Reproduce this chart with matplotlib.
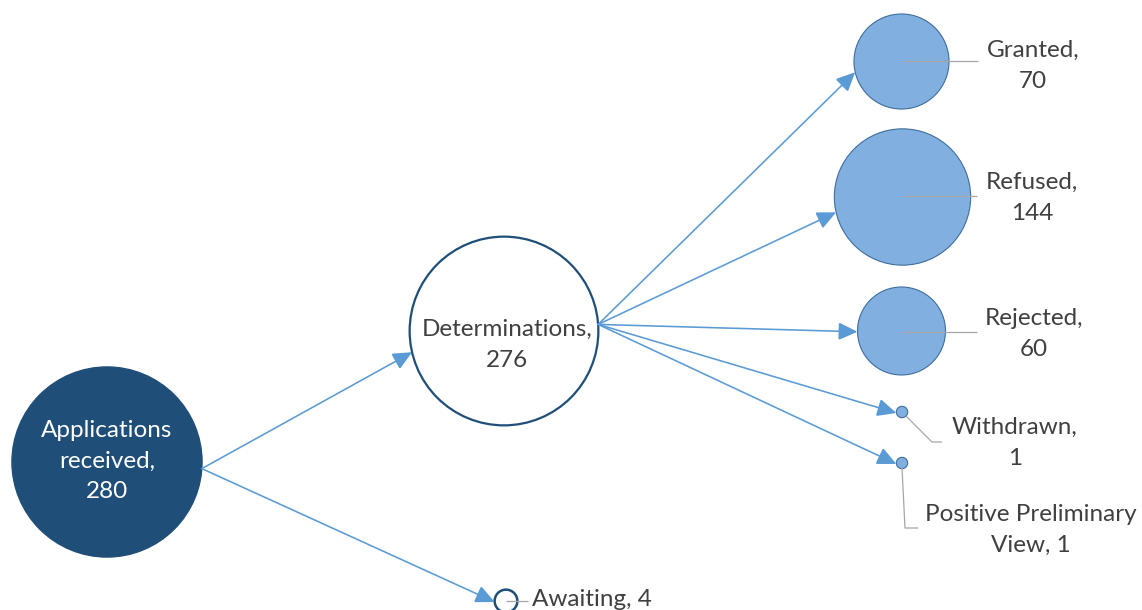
import numpy as np
import matplotlib
matplotlib.use("Agg")
import matplotlib.pyplot as plt
from matplotlib.patches import Circle, FancyArrowPatch
from matplotlib.patches import ArrowStyle

# ---- data -------------------------------------------------------------
stages = ["Applications received", "Determinations", "Awaiting",
          "Granted", "Refused", "Rejected", "Withdrawn",
          "Positive Preliminary View"]
counts = [280, 276, 4, 70, 144, 60, 1, 1]
flow_sources = ["Applications received", "Applications received",
                "Determinations", "Determinations", "Determinations",
                "Determinations", "Determinations"]
flow_targets = ["Determinations", "Awaiting",
                "Granted", "Refused", "Rejected", "Withdrawn",
                "Positive Preliminary View"]

# ---- layout (canvas pixels, y grows downward) --------------------------
W, H = 1142, 610
SCALE = 5.68          # bubble radius = SCALE * sqrt(count)

layout = {
    "Applications received": dict(xy=(107, 462), text=(107, 461),
                                  wrap="Applications\nreceived", sep="\n",
                                  kind="source", out_angle=-4, in_angle=None,
                                  leader=None),
    "Determinations": dict(xy=(504, 331), text=(507, 345),
                           wrap="Determinations", sep="\n",
                           kind="hub", out_angle=4, in_angle=193,
                           leader=None),
    "Awaiting": dict(xy=(506, 601), text=(532, 599), wrap="Awaiting",
                     sep=" ", kind="pending", in_angle=185, ha="left",
                     leader=[(506, 601), (528, 601)]),
    "Granted": dict(xy=(901.5, 61.5), text=(1033, 66), wrap="Granted",
                    sep="\n", kind="outcome", in_angle=193,
                    leader=[(901.5, 61), (978, 61)]),
    "Refused": dict(xy=(902.5, 197), text=(1032, 198), wrap="Refused",
                    sep="\n", kind="outcome", in_angle=193,
                    leader=[(902.5, 196), (977, 196)]),
    "Rejected": dict(xy=(901.5, 331), text=(1034, 334), wrap="Rejected",
                     sep="\n", kind="outcome", in_angle=181,
                     leader=[(901.5, 332), (977, 332)]),
    "Withdrawn": dict(xy=(902, 412), text=(1015, 443), wrap="Withdrawn",
                      sep="\n", kind="outcome", in_angle=190,
                      leader=[(906, 416), (932, 442), (942, 442)]),
    "Positive Preliminary View": dict(xy=(902, 463), text=(1031, 530),
                                      wrap="Positive Preliminary\nView",
                                      sep=" ", kind="outcome", in_angle=190,
                                      leader=[(902, 468), (905, 528),
                                              (918, 528)]),
}

# ---- styles ------------------------------------------------------------
DARK_BLUE = "#1F4E79"
ARROW_BLUE = "#5B9BD5"
OUTCOME_FILL = "#80AFE0"
OUTCOME_EDGE = "#3E6E9E"
TEXT_GREY = "#404040"
LEADER_GREY = "#A6A6A6"
FONT = ["Lato", "DejaVu Sans"]

node_style = {
    "source": dict(facecolor=DARK_BLUE, edgecolor=DARK_BLUE, linewidth=1.0),
    "hub": dict(facecolor="white", edgecolor=DARK_BLUE, linewidth=1.6),
    "pending": dict(facecolor="white", edgecolor=DARK_BLUE, linewidth=1.8),
    "outcome": dict(facecolor=OUTCOME_FILL, edgecolor=OUTCOME_EDGE,
                    linewidth=0.8),
}

fig = plt.figure(figsize=(W / 100, H / 100), dpi=100)
ax = fig.add_axes([0, 0, 1, 1])
ax.set_xlim(0, W)
ax.set_ylim(H, 0)
ax.axis("off")

count_of = dict(zip(stages, counts))


def radius(name):
    return SCALE * np.sqrt(count_of[name])


def rim_point(name, angle_deg):
    cx, cy = layout[name]["xy"]
    r = radius(name)
    a = np.deg2rad(angle_deg)
    return cx + r * np.cos(a), cy - r * np.sin(a)


# bubbles
for name in stages:
    spec = layout[name]
    ax.add_patch(Circle(spec["xy"], radius(name), zorder=2,
                        **node_style[spec["kind"]]))

# leader lines from bubble to its label
for name in stages:
    pts = layout[name]["leader"]
    if pts:
        xs, ys = zip(*pts)
        ax.plot(xs, ys, color=LEADER_GREY, lw=0.9, zorder=3,
                solid_capstyle="butt")

# flow arrows
head = ArrowStyle("-|>", head_length=0.9, head_width=0.42)
for src, dst in zip(flow_sources, flow_targets):
    start = rim_point(src, layout[src]["out_angle"])
    end = rim_point(dst, layout[dst]["in_angle"])
    ax.add_patch(FancyArrowPatch(start, end, arrowstyle=head,
                                 mutation_scale=13, color=ARROW_BLUE,
                                 lw=1.15, shrinkA=0, shrinkB=0, zorder=4,
                                 joinstyle="miter"))

# labels
for name in stages:
    spec = layout[name]
    label = f"{spec['wrap']},{spec['sep']}{count_of[name]}"
    color = "white" if spec["kind"] == "source" else TEXT_GREY
    ax.text(*spec["text"], label, ha=spec.get("ha", "center"),
            va="center", ma="center", fontsize=17.5, color=color,
            family=FONT, linespacing=1.55, zorder=5)

fig.savefig("out.png", dpi=100, facecolor="white")
